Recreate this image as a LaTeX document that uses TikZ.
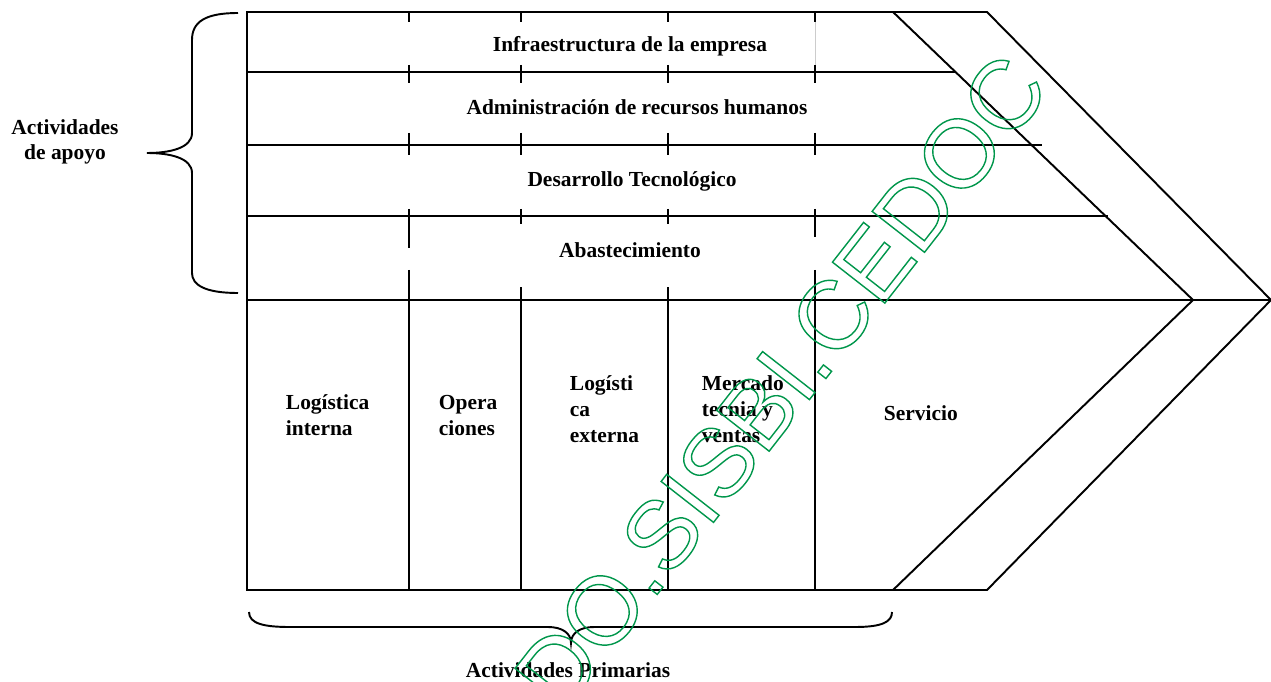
\documentclass[tikz,border=0pt]{standalone}
\usepackage{fontspec}
\setmainfont{Liberation Serif}
\newfontfamily\wmfont{Liberation Sans}
\definecolor{wmgreen}{RGB}{0,150,75}
\newcommand\outlinetext[1]{\special{pdf:literal direct 0.8 w 1 Tr}#1\special{pdf:literal direct 0 Tr}}

\begin{document}
\begin{tikzpicture}[x=0.02cm,y=-0.02cm,line width=1.1pt,
    sup_node/.style={font=\bfseries\fontsize{12.2}{14.6}\selectfont,inner sep=0pt,anchor=base},
    pri_node/.style={font=\bfseries\fontsize{12.2}{14.6}\selectfont,inner sep=0pt,anchor=base west,align=left},
    brace_line/.style={draw,line width=1.1pt},
    wm_node/.style={font=\wmfont\fontsize{55}{55}\selectfont,text=wmgreen,rotate=52,inner sep=0pt}]

    \useasboundingbox (0,0) rectangle (1271,682);

    % flecha de la cadena
    \draw (247,12) -- (987,12) -- (1271,300) -- (987,590) -- (247,590) -- cycle;
    \draw (893,12) -- (1193,300) -- (893,590);
    \draw (247,300) -- (1271,300);
    \draw (247,72) -- (955,72);
    \draw (247,145) -- (1042,145);
    \draw (247,216) -- (1108,216);

    % marcas de las columnas
    \foreach \x in {409,521,668,815} {
        \draw (\x,12) -- (\x,22);
        \draw (\x,65) -- (\x,83);
        \draw (\x,133) -- (\x,155);
    }
    \draw[gray!40,line width=0.4pt] (815,22) -- (815,65);
    \draw (409,209) -- (409,248);
    \draw (521,209) -- (521,224);
    \draw (668,209) -- (668,224);
    \draw (815,209) -- (815,237);

    % columnas primarias
    \draw (409,270) -- (409,590);
    \draw (521,287) -- (521,590);
    \draw (668,287) -- (668,590);
    \draw (815,270) -- (815,590);

    \node[sup_node] (infra) at (630,52) {Infraestructura de la empresa};
    \node[sup_node] (rrhh) at (637,115) {Administración de recursos humanos};
    \node[sup_node] (tecno) at (632,187) {Desarrollo Tecnológico};
    \node[sup_node] (abast) at (630,257) {Abastecimiento};

    \node[pri_node] (log_int) at (285,435) {Logística\\interna};
    \node[pri_node] (opera) at (438,435) {Opera\\ciones};
    \node[pri_node] (log_ext) at (569,442) {Logísti\\ca\\externa};
    \node[pri_node] (merca) at (701,442) {Mercado\\tecnia y\\ventas};
    \node[pri_node] (serv) at (883,420) {Servicio};

    % llaves
    \path[brace_line] (238,13) .. controls (205,13) and (192,22) .. (192,40) -- (192,133)
        .. controls (192,148) and (170,153) .. (147,153)
        .. controls (170,153) and (192,158) .. (192,173) -- (192,273)
        .. controls (192,285) and (205,293) .. (238,293);
    \path[brace_line] (249,612) .. controls (249,624) and (265,627) .. (290,627) -- (548,627)
        .. controls (562,627) and (571,633) .. (571,643)
        .. controls (571,633) and (580,627) .. (594,627) -- (855,627)
        .. controls (882,627) and (892,622) .. (892,612);

    \node[sup_node,align=center] (apoyo) at (65,160) {Actividades\\de apoyo};
    \node[sup_node] (primarias) at (568,677) {Actividades Primarias};

    % marca de agua
    \node[wm_node] (wm) at (781,382) {\outlinetext{DO.SISBI.CEDOC}};
\end{tikzpicture}
\end{document}
